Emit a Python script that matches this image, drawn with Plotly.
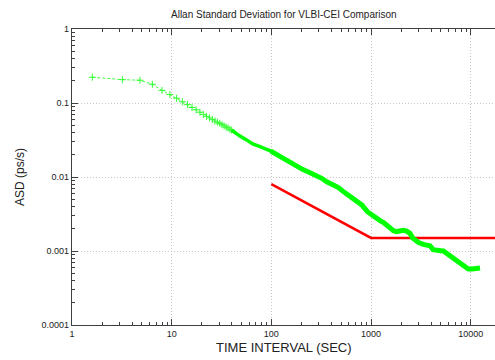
import plotly.graph_objects as go

# ---- data ----
tau_sparse = [1.6, 3.2, 4.8, 6.4, 8.0, 9.6, 11.2, 12.8, 14.4, 16.0, 17.6, 19.2, 20.8,
              22.4, 24.0, 25.6, 27.2, 28.8, 30.4, 32.0, 33.6, 35.2, 36.8, 38.4, 40.0]
asd_sparse = [0.223, 0.207, 0.203, 0.179, 0.148, 0.130, 0.116, 0.104, 0.095, 0.087, 0.081,
              0.075, 0.070, 0.066, 0.063, 0.060, 0.057, 0.055, 0.053, 0.051, 0.049, 0.047,
              0.046, 0.044, 0.043]

tau_mid = [40, 48, 57, 65, 77, 88, 99, 115]
asd_mid = [0.043, 0.036, 0.0315, 0.028, 0.0258, 0.0240, 0.0224, 0.0198]

tau_dense = [99, 115, 132, 155, 180, 205, 236, 286, 320, 360, 410, 471, 540, 617, 700,
             808, 920, 1000, 1057, 1150, 1233, 1350, 1439, 1553, 1675, 1811, 1950, 2113,
             2300, 2462, 2620, 2765, 3000, 3350, 3650, 3908, 4200, 4560, 5000, 5320, 5800,
             6460, 7100, 7810, 8600, 9460, 10300, 11050, 12400]
asd_dense = [0.0224, 0.0198, 0.0178, 0.0157, 0.0140, 0.0127, 0.0117, 0.0106, 0.0096,
             0.0086, 0.0079, 0.0072, 0.0062, 0.0054, 0.0048, 0.0042, 0.0034, 0.0031,
             0.0029, 0.0027, 0.00257, 0.0024, 0.00224, 0.00200, 0.00188, 0.00183,
             0.00188, 0.00190, 0.00184, 0.00173, 0.00150, 0.00141, 0.00130, 0.00123,
             0.00121, 0.00118, 0.00104, 0.00101, 0.00101, 0.00100, 0.00092, 0.00084,
             0.00078, 0.00071, 0.00063, 0.00057, 0.00057, 0.00058, 0.00059]

tau_spec = [100, 1000, 20000]
asd_spec = [0.008, 0.0015, 0.0015]

x_tickvals = [1, 10, 100, 1000, 10000]
x_ticktext = ["1", "10", "100", "1000", "10000"]
y_tickvals = [1, 0.1, 0.01, 0.001, 0.0001]
y_ticktext = ["1", "0.1", "0.01", "0.001", "0.0001"]

GREEN = "#00ff00"
RED = "#ff0000"
FONT = "Liberation Sans, Arial, sans-serif"

fig = go.Figure()
fig.add_trace(go.Scatter(x=tau_spec, y=asd_spec, mode="lines",
                         line=dict(color=RED, width=2.5), showlegend=False))
fig.add_trace(go.Scatter(x=tau_sparse, y=asd_sparse, mode="lines+markers",
                         line=dict(color="#44ff44", width=1, dash="3px,2px"),
                         marker=dict(symbol="cross-thin", size=5,
                                     line=dict(color="#33ff33", width=1)),
                         showlegend=False))
fig.add_trace(go.Scatter(x=tau_mid, y=asd_mid, mode="lines",
                         line=dict(color=GREEN, width=3.5), showlegend=False))
fig.add_trace(go.Scatter(x=tau_dense, y=asd_dense, mode="lines",
                         line=dict(color=GREEN, width=5), showlegend=False))

axis_common = dict(
    automargin=False,
    showline=True, linecolor="#404040", linewidth=1.2,
    ticks="inside", ticklen=6, tickcolor="#404040", tickwidth=1,
    showgrid=True, gridcolor="#c8c8c8", griddash="1px,2px", gridwidth=1,
    zeroline=False, tickfont=dict(family=FONT, size=9, color="#222222"),
    minor=dict(ticks="inside", ticklen=3, tickcolor="#404040", tickwidth=1,
               showgrid=False, dtick="D1"),
)

fig.update_xaxes(type="log", range=[0, 4.244], tickvals=x_tickvals, ticktext=x_ticktext,
                 mirror="ticks", **axis_common)
fig.update_yaxes(type="log", range=[-4, 0], tickvals=y_tickvals, ticktext=y_ticktext,
                 mirror=False, **axis_common)

fig.update_layout(
    width=495, height=360,
    margin=dict(l=72, r=0, t=29, b=35, autoexpand=False),
    paper_bgcolor="white", plot_bgcolor="white",
    font=dict(family=FONT, color="#222222"),
    annotations=[
        dict(text="Allan Standard Deviation for VLBI-CEI Comparison", xref="paper",
             yref="paper", x=0.5, y=1, yshift=15, showarrow=False,
             font=dict(size=10), xanchor="center", yanchor="middle"),
        dict(text="TIME INTERVAL (SEC)", xref="paper", yref="paper", x=0.5, y=0,
             yshift=-22, showarrow=False, font=dict(size=13),
             xanchor="center", yanchor="middle"),
        dict(text="ASD (ps/s)", xref="paper", yref="paper", x=0, y=0.5,
             xshift=-52, showarrow=False, font=dict(size=12), textangle=-90,
             xanchor="center", yanchor="middle"),
    ],
)

fig.write_html("out.html", config={"displayModeBar": False},
               post_script="document.body.style.margin='0';document.body.style.overflow='hidden';")
